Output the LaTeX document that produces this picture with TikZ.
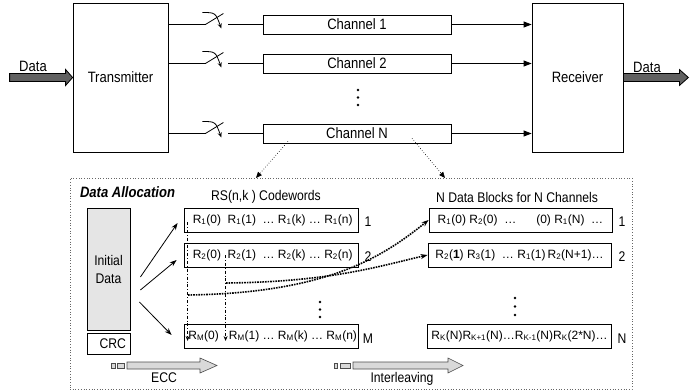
\documentclass[tikz,border=0pt]{standalone}
\usepackage{fontspec}
\setmainfont[FakeStretch=0.87]{Liberation Sans}
\newfontfamily\rowfont{Liberation Sans}
\usepackage{tikz}
\usepackage{xcolor}
\usetikzlibrary{arrows.meta}
\newcommand{\Rsub}[1]{R\textsubscript{#1}}

\begin{document}
\begin{tikzpicture}[x=1pt,y=-1pt,line width=0.8pt,
  blk/.style={draw,inner sep=0pt,bigtxt},
  bigtxt/.style={font=\fontsize{15}{17}\selectfont},
  midtxt/.style={font=\fontsize{14}{16}\selectfont},
  rowbox/.style={draw,inner sep=0pt,minimum height=24pt,font=\rowfont\fontsize{12}{14}\selectfont},
  darrow/.style={draw=black,fill=black!62},
  garrow/.style={draw=black!70,fill=black!15,line width=0.6pt},
  chtip/.style={-{Triangle[length=8pt,width=6pt]}},
  ltip/.style={-{Stealth[length=7pt,width=5pt]}},
  perm/.style={densely dotted,line width=1.6pt,-{Stealth[length=7pt,width=5pt]}}]
\useasboundingbox (0,0) rectangle (694,391);

\node[blk,minimum width=95pt,minimum height=149pt] (tx) at (120.5,77.5) {Transmitter};
\node[blk,minimum width=91pt,minimum height=149pt] (rx) at (577.5,77.5) {Receiver};
\node[blk,minimum width=188pt,minimum height=19pt] (ch1) at (357,24.5) {Channel 1};
\node[blk,minimum width=188pt,minimum height=19pt] (ch2) at (357,63.5) {Channel 2};
\node[blk,minimum width=188pt,minimum height=19pt] (chN) at (357,133.5) {Channel N};
\foreach \y in {90,97.5,105} \fill (358,\y) circle (1.4pt);

\foreach \ch in {1,2,N}{
  \draw (tx.east |- ch\ch.west) -- ++(37,0) coordinate (sw\ch) -- ++(18,-11);
  \draw[-{Stealth[length=5pt,width=4pt]}] ([shift={(-3,-12)}]sw\ch) .. controls ([shift={(10,-12)}]sw\ch) .. ([shift={(16,4)}]sw\ch);
  \draw ([xshift=23]sw\ch) -- (ch\ch.west);
  \draw[chtip] (ch\ch.east) -- (rx.west |- ch\ch.east);
}

\draw[darrow] (tx.west) -- ++(-7,-8) -- ++(0,4) -- ++(-56,0) -- ++(0,8) -- ++(56,0) -- ++(0,4) -- cycle;
\draw[darrow] (rx.east) ++(0,-4) -- ++(56,0) -- ++(0,-4) -- ++(9,8) -- ++(-9,8) -- ++(0,-4) -- ++(-56,0) -- cycle;
\node[bigtxt] (din) at (33,66) {Data};
\node[bigtxt] (dout) at (647,67) {Data};

\node[draw=black!60,dotted,line width=0.7pt,minimum width=562pt,minimum height=211pt] (alloc) at (351,283.5) {};
\coordinate (alloc1) at (256,178);
\coordinate (alloc2) at (445,178);
\draw[dotted,line width=0.6pt,-{Triangle[length=6pt,width=5pt]}] ([xshift=-69,yshift=2]chN.south) -- (alloc1);
\draw[dotted,line width=0.6pt,-{Triangle[length=6pt,width=5pt]}] ([xshift=55,yshift=5]chN.south) -- (alloc2);
\node[font=\fontsize{15}{17}\selectfont\bfseries\itshape] (title) at (127.5,192) {Data Allocation};
\node[midtxt] (rshead) at (266,197) {RS(n,k ) Codewords};
\node[midtxt] (dbhead) at (517,197) {N Data Blocks for N Channels};

\node[draw,fill=black!10,minimum width=43pt,minimum height=122pt,align=center,midtxt] (init) at (108.5,269) {Initial\\[2pt]Data};
\node[draw,minimum width=43pt,minimum height=21pt,inner xsep=4pt,text width=35pt,align=right,midtxt] (crc) at (108.5,343.5) {CRC};

\node[rowbox,minimum width=174pt] (cw1) at (271,220) {\ \Rsub{1}(0)\ \ \Rsub{1}(1)\ \ … \Rsub{1}(k) … \Rsub{1}(n)};
\node[rowbox,minimum width=174pt] (cw2) at (271,255) {\ \Rsub{2}(0)\ \ \Rsub{2}(1)\ \ … \Rsub{2}(k) … \Rsub{2}(n)};
\node[rowbox,minimum width=174pt] (cwM) at (271,336) {\ \Rsub{M}(0)\ \ \ \Rsub{M}(1)\ … \Rsub{M}(k) … \Rsub{M}(n)};
\node[midtxt] (cwl1) at (368,222) {1};
\node[midtxt] (cwl2) at (368,257) {2};
\node[midtxt] (cwlM) at (368,339) {M};
\foreach \y in {302,309.5,317} \fill (320,\y) circle (1.4pt);

\node[rowbox,minimum width=183pt] (db1) at (520.5,220) {\Rsub{1}(0)\ \Rsub{2}(0)\ \ …\ \ \ \ \ \ (0)\ \Rsub{1}(N)\ \ …};
\node[rowbox,minimum width=183pt] (db2) at (519.5,255) {\Rsub{2}(\textbf{1})\ \Rsub{3}(1)\ \ …\ \Rsub{1}(1)\,\Rsub{2}(N+1)…};
\node[rowbox,minimum width=184pt] (dbN) at (519.5,336) {\Rsub{K}(N)\Rsub{K+1}(N)…\Rsub{K-1}(N)\Rsub{K}(2*N)…};
\node[midtxt] (dbl1) at (622,222) {1};
\node[midtxt] (dbl2) at (622,257) {2};
\node[midtxt] (dblN) at (622,339) {N};
\foreach \y in {298,306.5,315} \fill (515,\y) circle (1.4pt);

\draw[ltip] ([shift={(10,8)}]init.east) -- ([shift={(-6,3)}]cw1.west);
\draw[ltip] ([shift={(10,21)}]init.east) -- ([shift={(-7,5)}]cw2.west);
\draw[ltip] ([shift={(9,33)}]init.east) -- ([shift={(-12,-1)}]cwM.west);

\draw[dash dot,line width=1.3pt,-{Stealth[length=5pt,width=4pt]}] ([shift={(4,2)}]cw1.west) -- ([shift={(4,5)}]cwM.west);
\draw[dash dot,line width=1.3pt,-{Stealth[length=5pt,width=4pt]}] ([shift={(42,0)}]cw2.west) -- ([shift={(42,5)}]cwM.west);
\draw[perm] (188,295) .. controls (330,293) and (385,255) .. (db1.west);
\draw[perm] (226,283) .. controls (330,282) and (380,266) .. (db2.west);

\draw[garrow] (111,363) rectangle (115,368) (117,363) rectangle (124,368);
\draw[garrow] (127,362) -- (200,362) -- (200,358) -- (217,365.5) -- (200,373) -- (200,369) -- (127,369) -- cycle;
\node[midtxt] (ecc) at (164,378) {ECC};
\draw[garrow] (334,363) rectangle (337,368) (340,363) rectangle (350,368);
\draw[garrow] (353,362) -- (448,362) -- (448,358) -- (463,365.5) -- (448,373) -- (448,369) -- (353,369) -- cycle;
\node[midtxt] (ilv) at (402,379) {Interleaving};
\end{tikzpicture}
\end{document}
